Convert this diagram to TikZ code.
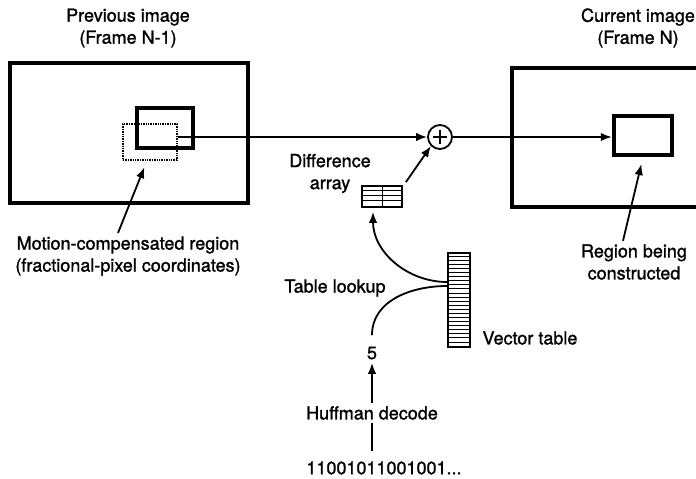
\documentclass[tikz,border=0pt]{standalone}
\usepackage{fontspec}
\setmainfont{TeX Gyre Heros}[BoldFont={TeX Gyre Heros},BoldFeatures={FakeBold=1.3}]
\usetikzlibrary{arrows.meta}
\begin{document}
\begin{tikzpicture}[x=1pt,y=1pt,
    lbl/.style={align=center,font=\fontsize{18}{22}\selectfont\bfseries},
    arr/.style={line width=1.8pt,-{Latex[length=11pt,width=8.5pt]}},
    framebox/.style={draw,line width=3.2pt,inner sep=0pt},
    regionbox/.style={draw,line width=4.5pt,inner sep=0pt},
    tablebox/.style={draw,line width=1.8pt,inner sep=0pt}]
\useasboundingbox (0,0) rectangle (696,479);
% titles
\node[lbl] (prevlbl) at (128,451) {Previous image\\(Frame N-1)};
\node[lbl] (curlbl) at (638,451) {Current image\\(Frame N)};
% frames
\node[framebox, minimum width=238, minimum height=140] (prev) at (129,346) {};
\node[framebox, minimum width=208, minimum height=139] (cur) at (616,341.5) {};
\node[regionbox, minimum width=56, minimum height=40] (refreg) at (165,351) {};
\node[draw, densely dotted, line width=1.4pt, inner sep=0pt,
      minimum width=54, minimum height=36] (mcreg) at (150,337) {};
\node[regionbox, minimum width=58, minimum height=39] (curreg) at (643,343.5) {};
% adder
\node[draw, circle, line width=1.8pt, minimum size=24, inner sep=0pt] (sum) at (440,342) {};
\draw[line width=1.8pt] ([xshift=-7pt]sum.center) -- ([xshift=7pt]sum.center)
                        ([yshift=-7pt]sum.center) -- ([yshift=7pt]sum.center);
\draw[arr] (mcreg.east |- sum.west) -- (sum.west);
\draw[arr] (sum.east) -- (sum.east -| curreg.west);
% difference array
\node[lbl] (difflbl) at (330,305.5) {Difference\\array};
\node[tablebox, minimum width=40, minimum height=21] (diff) at (382,282.5) {};
\draw[line width=1pt] (diff.north) -- (diff.south);
\foreach \i in {1,2,3}
  \draw[line width=1pt] (diff.north west) ++(0,-\i*5.25) -- ++(40,0);
\draw[arr] ([shift={(3pt,3pt)}]diff.north east) -- (sum.south west);
% vector table
\node[tablebox, minimum width=22, minimum height=94] (vtab) at (459,179) {};
\foreach \i in {1,...,22}
  \draw[line width=0.9pt] (vtab.north west) ++(0,-\i*4.087) -- ++(22,0);
\node[lbl, anchor=west] (vtablbl) at (479,141) {Vector table};
\node[lbl] (lookup) at (335,191) {Table lookup};
\node[lbl] (num) at (372,126) {5};
\draw[arr] ([yshift=18pt]vtab.west) to[out=180,in=-90] ([xshift=-9pt,yshift=-4pt]diff.south);
\draw[line width=1.8pt] ([yshift=14pt]vtab.west) to[out=180,in=90] ([yshift=8pt]num.north);
% decoding
\node[lbl] (huff) at (372,66) {Huffman decode};
\node[lbl] (bits) at (384,11) {11001011001001...};
\draw[arr] (huff.north) -- (num.south);
\draw[line width=1.8pt, shorten <=7pt] (bits.north -| huff.south) -- (huff.south);
% callouts
\node[lbl] (mclbl) at (128,223) {Motion-compensated region\\(fractional-pixel coordinates)};
\node[lbl] (rglbl) at (634,217) {Region being\\constructed};
\draw[arr, shorten >=7pt] ([xshift=-10pt]mclbl.north) -- ([xshift=-3pt]mcreg.south);
\draw[arr, shorten >=7pt] ([xshift=-11pt]rglbl.north) -- (curreg.south);
\end{tikzpicture}
\end{document}
